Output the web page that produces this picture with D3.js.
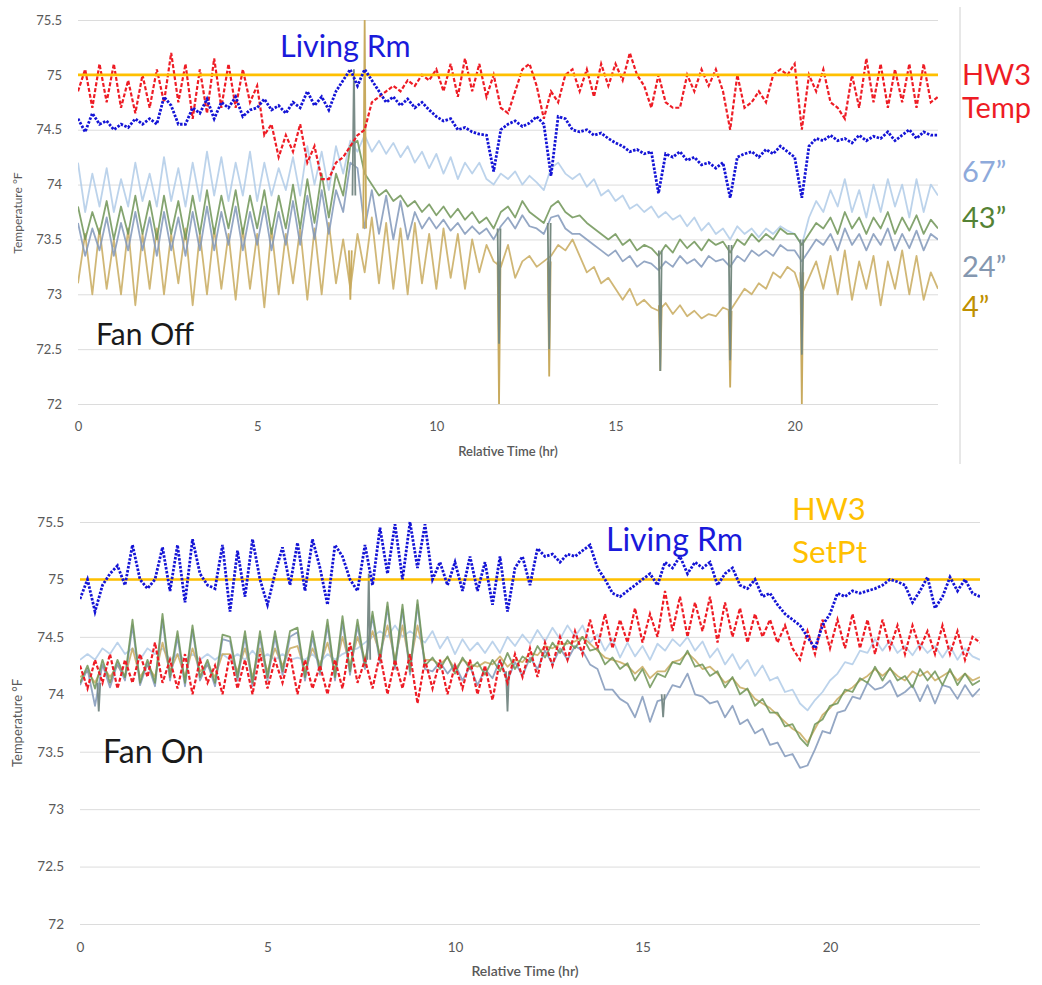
<!DOCTYPE html>
<html>
<head>
<meta charset="utf-8">
<script src="https://cdn.jsdelivr.net/npm/d3@7"></script>
<style>
  body { margin: 0; background: #fff; }
  svg { display: block; }
  text { font-family: Lato, "Open Sans", sans-serif; }
</style>
</head>
<body>
<svg id="chart" width="1042" height="985"></svg>
<script>
// samples every 0.2 hr, 0..24
const step = 0.2;
const xTicks = [0, 5, 10, 15, 20];
const yTicks = [72, 72.5, 73, 73.5, 74, 74.5, 75, 75.5];
const setPoint = 75;

// ---- Fan Off ----
const offHW3 = [
  74.85, 75.05, 74.7, 75.1, 74.75,  75.1, 74.7, 74.95, 74.65, 75.0,
  74.7, 75.05, 74.75, 75.2, 74.75,  75.1, 74.6, 75.05, 74.65, 75.15,
  74.7, 75.1, 74.7, 75.05, 74.75,  74.9, 74.45, 74.55, 74.25, 74.45,
  74.3, 74.55, 74.2, 74.35, 74.05,  74.05, 74.2, 74.25, 74.35, 74.45,
  74.5, 74.75, 74.8, 74.85, 74.9,  74.85, 74.95, 74.9, 75.0, 74.95,
  75.05, 74.85, 75.1, 74.8, 75.15,  74.85, 75.1, 74.8, 75.0, 74.7,
  74.65, 74.85, 75.05, 75.1, 74.9,  74.6, 74.85, 74.75, 75.0, 75.05,
  74.85, 75.05, 74.8, 75.1, 74.9,  75.1, 74.95, 75.2, 75.0, 74.9,
  74.7, 75.0, 74.75, 74.7, 74.7,  75.0, 74.85, 75.05, 74.9, 75.05,
  74.85, 74.5, 75.0, 74.7, 74.75,  74.85, 74.75, 75.0, 75.05, 75.0,
  75.1, 74.5, 75.0, 74.85, 75.05,  74.75, 74.7, 74.6, 75.0, 74.7,
  75.15, 74.75, 75.1, 74.7, 75.05,  74.75, 75.1, 74.7, 75.1, 74.75,
  74.8
];
const offLiving = [
  74.6, 74.48, 74.65, 74.55, 74.58,  74.5, 74.55, 74.52, 74.6, 74.55,
  74.6, 74.55, 74.8, 74.72, 74.55,  74.55, 74.7, 74.65, 74.78, 74.6,
  74.75, 74.7, 74.8, 74.62, 74.68,  74.7, 74.78, 74.68, 74.72, 74.65,
  74.75, 74.7, 74.85, 74.72, 74.8,  74.68, 74.85, 74.95, 75.05, 74.9,
  75.05, 74.95, 74.85, 74.75, 74.8,  74.72, 74.78, 74.7, 74.75, 74.68,
  74.62, 74.58, 74.6, 74.5, 74.52,  74.48, 74.46, 74.45, 74.12, 74.5,
  74.55, 74.58, 74.53, 74.56, 74.62,  74.55, 74.08, 74.62, 74.6, 74.5,
  74.48, 74.5, 74.45, 74.47, 74.42,  74.38, 74.35, 74.3, 74.32, 74.28,
  74.3, 73.92, 74.28, 74.25, 74.3,  74.22, 74.25, 74.18, 74.2, 74.15,
  74.2, 73.88, 74.25, 74.28, 74.3,  74.25, 74.32, 74.28, 74.35, 74.3,
  74.25, 73.88, 74.35, 74.42, 74.4,  74.45, 74.4, 74.42, 74.38, 74.45,
  74.4, 74.44, 74.42, 74.48, 74.4,  74.45, 74.5, 74.42, 74.48, 74.45,
  74.45
];
const off67 = [
  74.2, 73.75, 74.1, 73.8, 74.15,  73.75, 74.05, 73.8, 74.2, 73.85,
  74.1, 73.8, 74.25, 73.85, 74.15,  73.8, 74.2, 73.85, 74.3, 73.9,
  74.25, 73.85, 74.2, 73.9, 74.3,  73.85, 74.2, 73.9, 74.15, 73.95,
  74.25, 73.9, 74.35, 74.0, 74.3,  73.95, 74.35, 74.1, 74.4, 74.3,
  74.45, 74.3, 74.4, 74.28, 74.38,  74.25, 74.35, 74.2, 74.3, 74.15,
  74.28, 74.1, 74.25, 74.05, 74.2,  74.1, 74.2, 74.05, 74.0, 74.1,
  74.05, 74.12, 74.0, 74.08, 74.02,  73.95, 74.15, 74.2, 74.1, 74.05,
  74.1, 73.98, 74.05, 73.9, 73.95,  73.85, 73.9, 73.78, 73.82, 73.75,
  73.8, 73.7, 73.75, 73.68, 73.72,  73.62, 73.7, 73.58, 73.65, 73.55,
  73.6, 73.5, 73.62, 73.55, 73.6,  73.52, 73.6, 73.55, 73.62, 73.58,
  73.55, 73.45, 73.7, 73.85, 73.75,  73.95, 73.8, 74.05, 73.75, 73.95,
  73.7, 74.0, 73.75, 74.05, 73.8,  74.0, 73.7, 74.05, 73.75, 74.0,
  73.9
];
const off43 = [
  73.8, 73.5, 73.75, 73.55, 73.85,  73.5, 73.8, 73.55, 73.9, 73.55,
  73.85, 73.5, 73.9, 73.55, 73.85,  73.5, 73.9, 73.55, 73.95, 73.55,
  73.9, 73.6, 73.95, 73.55, 73.9,  73.6, 73.95, 73.55, 73.9, 73.6,
  74.0, 73.6, 74.05, 73.65, 74.1,  73.7, 74.1, 73.9, 74.35, 74.4,
  74.1, 74.0, 73.9, 73.95, 73.85,  73.9, 73.8, 73.85, 73.75, 73.82,
  73.72, 73.8, 73.7, 73.78, 73.68,  73.75, 73.65, 73.7, 73.6, 73.75,
  73.8, 73.7, 73.85, 73.75, 73.7,  73.65, 73.8, 73.85, 73.75, 73.7,
  73.72, 73.65, 73.6, 73.55, 73.5,  73.55, 73.45, 73.5, 73.4, 73.45,
  73.42, 73.35, 73.45, 73.38, 73.5,  73.42, 73.48, 73.4, 73.5, 73.45,
  73.48, 73.38, 73.5, 73.45, 73.55,  73.48, 73.55, 73.5, 73.6, 73.55,
  73.55, 73.45, 73.55, 73.65, 73.6,  73.7, 73.55, 73.75, 73.6, 73.7,
  73.55, 73.7, 73.6, 73.75, 73.55,  73.7, 73.58, 73.72, 73.55, 73.68,
  73.6
];
const off24 = [
  73.65, 73.35, 73.6, 73.4, 73.7,  73.35, 73.65, 73.4, 73.75, 73.4,
  73.7, 73.35, 73.75, 73.4, 73.7,  73.35, 73.75, 73.4, 73.8, 73.4,
  73.75, 73.45, 73.8, 73.4, 73.75,  73.45, 73.8, 73.4, 73.75, 73.45,
  73.85, 73.45, 73.9, 73.5, 73.95,  73.55, 73.95, 73.75, 74.2, 74.15,
  73.6, 73.95, 73.55, 73.9, 73.5,  73.85, 73.5, 73.75, 73.6, 73.7,
  73.6, 73.68, 73.58, 73.65, 73.55,  73.62, 73.55, 73.6, 73.5, 73.62,
  73.7, 73.6, 73.72, 73.62, 73.6,  73.55, 73.7, 73.72, 73.6, 73.55,
  73.55, 73.5, 73.45, 73.4, 73.35,  73.4, 73.3, 73.35, 73.25, 73.3,
  73.28, 73.22, 73.3, 73.25, 73.35,  73.28, 73.32, 73.25, 73.35, 73.3,
  73.32, 73.25, 73.35, 73.3, 73.4,  73.35, 73.4, 73.35, 73.45, 73.4,
  73.4, 73.3, 73.4, 73.5, 73.45,  73.55, 73.4, 73.6, 73.45, 73.55,
  73.4, 73.55, 73.45, 73.6, 73.4,  73.55, 73.42, 73.58, 73.4, 73.55,
  73.5
];
const off4 = [
  73.1, 73.55, 73.0, 73.6, 73.05,  73.5, 73.0, 73.6, 72.9, 73.55,
  73.05, 73.6, 73.0, 73.55, 73.1,  73.6, 72.9, 73.55, 73.0, 73.6,
  73.05, 73.55, 72.95, 73.6, 73.05,  73.55, 72.88, 73.6, 73.0, 73.55,
  73.1, 73.6, 72.95, 73.6, 73.0,  73.65, 73.1, 73.5, 73.05, 73.55,
  73.2, 73.7, 73.1, 73.65, 73.05,  73.6, 73.0, 73.65, 73.1, 73.55,
  73.05, 73.6, 73.15, 73.55, 73.05,  73.5, 73.2, 73.45, 73.3, 73.25,
  73.45, 73.15, 73.3, 73.35, 73.25,  73.3, 73.35, 73.45, 73.4, 73.5,
  73.35, 73.2, 73.25, 73.1, 73.15,  73.05, 72.95, 73.05, 72.9, 72.95,
  72.88, 72.85, 72.92, 72.82, 72.9,  72.8, 72.85, 72.78, 72.82, 72.8,
  72.88, 72.85, 72.95, 73.05, 73.0,  73.1, 73.05, 73.2, 73.15, 73.25,
  73.2, 73.0, 73.15, 73.3, 73.05,  73.35, 73.0, 73.4, 72.95, 73.3,
  73.05, 73.35, 72.9, 73.3, 73.05,  73.4, 73.0, 73.35, 72.95, 73.2,
  73.05
];
// narrow spikes: [hr, from, to, sensor]
const offSpikes = [
  [7.6, 73.4, 72.95, "4"], [8.0, 73.6, 75.5, "4"], [7.7, 73.9, 75.05, "24"],
  [11.75, 73.3, 72.0, "4"], [13.15, 73.3, 72.25, "4"], [16.25, 72.9, 72.3, "4"],
  [18.2, 72.85, 72.15, "4"], [20.2, 73.2, 72.0, "4"],
  [11.75, 73.6, 72.55, "43"], [13.15, 73.65, 72.5, "43"], [16.25, 73.4, 72.3, "43"],
  [18.2, 73.45, 72.4, "43"], [20.2, 73.5, 72.45, "43"]
];

// ---- Fan On ----
const onHW3 = [
  74.25, 74.05, 74.3, 74.1, 74.35,  74.05, 74.3, 74.1, 74.35, 74.15,
  74.45, 74.1, 74.3, 74.05, 74.35,  74.0, 74.3, 74.1, 74.25, 74.0,
  74.35, 74.05, 74.3, 74.0, 74.35,  74.05, 74.3, 74.1, 74.35, 74.0,
  74.3, 74.05, 74.25, 74.0, 74.3,  74.05, 74.45, 74.1, 74.3, 74.05,
  74.35, 74.0, 74.3, 74.05, 74.35,  73.92, 74.3, 74.05, 74.3, 74.0,
  74.25, 74.05, 74.3, 74.0, 74.25,  73.95, 74.3, 74.1, 74.35, 74.15,
  74.4, 74.15, 74.45, 74.25, 74.5,  74.3, 74.55, 74.35, 74.65, 74.4,
  74.7, 74.4, 74.65, 74.45, 74.75,  74.45, 74.7, 74.5, 74.9, 74.55,
  74.85, 74.5, 74.8, 74.55, 74.85,  74.45, 74.8, 74.5, 74.75, 74.45,
  74.7, 74.5, 74.65, 74.45, 74.6,  74.4, 74.3, 74.55, 74.35, 74.65,
  74.4, 74.65, 74.4, 74.7, 74.4,  74.65, 74.35, 74.65, 74.4, 74.6,
  74.35, 74.6, 74.4, 74.55, 74.35,  74.6, 74.35, 74.55, 74.3, 74.5,
  74.45
];
const onLiving = [
  74.83, 75.0, 74.72, 74.95, 75.05,  75.12, 74.95, 75.3, 75.0, 74.92,
  75.0, 75.28, 74.9, 75.3, 74.8,  75.35, 75.05, 74.95, 74.92, 75.3,
  74.72, 75.25, 74.85, 75.35, 75.0,  74.78, 75.05, 75.28, 74.95, 75.32,
  74.9, 75.35, 75.1, 74.78, 75.3,  75.2, 75.0, 74.9, 75.3, 74.95,
  75.45, 75.05, 75.48, 75.0, 75.5,  75.1, 75.48, 75.0, 75.15, 74.95,
  75.15, 74.9, 75.2, 74.9, 75.15,  74.78, 75.2, 74.72, 75.1, 75.2,
  74.95, 75.27, 75.2, 75.22, 75.15,  75.22, 75.2, 75.25, 75.3, 75.1,
  75.0, 74.88, 74.85, 74.9, 74.95,  75.0, 75.05, 74.95, 75.15, 75.1,
  75.2, 75.05, 75.15, 75.1, 75.15,  74.95, 75.05, 75.1, 74.95, 74.92,
  75.0, 74.85, 74.88, 74.78, 74.7,  74.65, 74.6, 74.5, 74.4, 74.6,
  74.7, 74.88, 74.85, 74.9, 74.88,  74.9, 74.92, 74.95, 75.0, 74.98,
  74.95, 74.8, 74.9, 75.02, 74.75,  74.85, 75.02, 74.9, 75.0, 74.88,
  74.85
];
const on67 = [
  74.3, 74.35, 74.3, 74.4, 74.35,  74.45, 74.35, 74.4, 74.3, 74.4,
  74.35, 74.4, 74.3, 74.35, 74.3,  74.35, 74.3, 74.35, 74.3, 74.35,
  74.3, 74.35, 74.3, 74.38, 74.3,  74.35, 74.3, 74.35, 74.3, 74.32,
  74.3, 74.35, 74.28, 74.35, 74.3,  74.35, 74.38, 74.4, 74.45, 74.5,
  74.55, 74.5, 74.6, 74.5, 74.55,  74.5, 74.45, 74.55, 74.4, 74.5,
  74.35, 74.48, 74.38, 74.45, 74.36,  74.46, 74.36, 74.5, 74.42, 74.52,
  74.44, 74.56, 74.46, 74.58, 74.48,  74.6, 74.5, 74.6, 74.45, 74.52,
  74.38, 74.48, 74.32, 74.45, 74.33,  74.42, 74.3, 74.44, 74.38, 74.48,
  74.42, 74.5, 74.38, 74.46, 74.32,  74.4, 74.26, 74.35, 74.22, 74.3,
  74.16, 74.25, 74.12, 74.15, 74.02,  74.04, 73.92, 73.86, 73.95, 74.02,
  74.12, 74.18, 74.28, 74.26, 74.38,  74.36, 74.48, 74.38, 74.47, 74.36,
  74.42, 74.34, 74.44, 74.36, 74.42,  74.32, 74.42, 74.3, 74.4, 74.33,
  74.3
];
const on43 = [
  74.1, 74.25, 74.05, 74.3, 74.1,  74.3, 74.15, 74.65, 74.1, 74.3,
  74.1, 74.7, 74.15, 74.55, 74.1,  74.6, 74.15, 74.3, 74.1, 74.52,
  74.5, 74.15, 74.55, 74.1, 74.55,  74.15, 74.55, 74.2, 74.55, 74.58,
  74.15, 74.55, 74.2, 74.65, 74.15,  74.68, 74.2, 74.65, 74.25, 74.72,
  74.3, 74.8, 74.25, 74.78, 74.2,  74.82, 74.25, 74.32, 74.22, 74.33,
  74.18, 74.32, 74.22, 74.28, 74.17,  74.3, 74.2, 74.36, 74.22, 74.33,
  74.28, 74.42, 74.32, 74.45, 74.36,  74.47, 74.4, 74.5, 74.38, 74.4,
  74.26, 74.32, 74.22, 74.27, 74.12,  74.22, 74.06, 74.18, 74.15, 74.28,
  74.26, 74.38, 74.24, 74.26, 74.16,  74.2, 74.06, 74.15, 74.0, 74.05,
  73.9, 73.96, 73.84, 73.84, 73.72,  73.74, 73.62, 73.55, 73.74, 73.78,
  73.9, 73.92, 74.04, 74.02, 74.14,  74.1, 74.24, 74.12, 74.23, 74.12,
  74.16, 74.06, 74.22, 74.12, 74.2,  74.08, 74.22, 74.08, 74.18, 74.08,
  74.12
];
const on24 = [
  74.08, 74.22, 73.9, 74.26, 74.06,  74.27, 74.12, 74.6, 74.08, 74.27,
  74.07, 74.65, 74.12, 74.5, 74.07,  74.56, 74.12, 74.27, 74.07, 74.48,
  74.46, 74.12, 74.5, 74.07, 74.5,  74.12, 74.5, 74.17, 74.5, 74.54,
  74.12, 74.5, 74.17, 74.6, 74.12,  74.63, 74.17, 74.6, 74.22, 74.68,
  74.27, 74.76, 74.22, 74.74, 74.17,  74.78, 74.22, 74.2, 74.28, 74.18,
  74.26, 74.12, 74.24, 74.08, 74.22,  74.14, 74.3, 74.12, 74.28, 74.16,
  74.32, 74.22, 74.38, 74.26, 74.4,  74.3, 74.42, 74.38, 74.26, 74.22,
  74.04, 74.04, 73.96, 73.92, 73.8,  73.98, 73.76, 73.94, 73.96, 74.08,
  74.06, 74.18, 74.0, 73.98, 73.92,  73.94, 73.8, 73.9, 73.74, 73.78,
  73.66, 73.7, 73.56, 73.58, 73.46,  73.48, 73.36, 73.38, 73.52, 73.68,
  73.66, 73.84, 73.86, 73.98, 73.96,  74.1, 74.04, 74.06, 74.12, 73.98,
  74.02, 74.08, 73.94, 74.08, 73.92,  74.08, 74.06, 73.96, 74.08, 73.98,
  74.05
];
const on4 = [
  74.15, 74.2, 74.1, 74.25, 74.15,  74.25, 74.15, 74.4, 74.15, 74.25,
  74.15, 74.45, 74.2, 74.35, 74.15,  74.4, 74.2, 74.25, 74.15, 74.35,
  74.35, 74.2, 74.4, 74.15, 74.4,  74.2, 74.4, 74.25, 74.4, 74.42,
  74.2, 74.4, 74.25, 74.45, 74.2,  74.5, 74.25, 74.5, 74.3, 74.55,
  74.35, 74.6, 74.3, 74.6, 74.25,  74.6, 74.3, 74.3, 74.26, 74.32,
  74.22, 74.3, 74.26, 74.24, 74.28,  74.26, 74.33, 74.24, 74.3, 74.28,
  74.36, 74.34, 74.42, 74.4, 74.44,  74.44, 74.46, 74.5, 74.44, 74.38,
  74.32, 74.3, 74.28, 74.25, 74.18,  74.24, 74.14, 74.2, 74.2, 74.28,
  74.3, 74.36, 74.3, 74.22, 74.24,  74.18, 74.1, 74.14, 74.06, 74.04,
  73.96, 73.92, 73.88, 73.82, 73.76,  73.7, 73.66, 73.58, 73.7, 73.82,
  73.88, 73.96, 74.02, 74.06, 74.12,  74.16, 74.22, 74.16, 74.22, 74.16,
  74.12, 74.2, 74.16, 74.2, 74.12,  74.16, 74.2, 74.12, 74.18, 74.12,
  74.15
];
const onSpikes = [
  [0.5, 74.1, 73.85, "24"], [7.7, 74.3, 75.05, "24"],
  [11.4, 74.2, 73.85, "24"], [15.55, 74.0, 73.8, "24"]
];

const sensorColor = { "67": "#b0cbe8", "43": "#6e9456", "24": "#8198ba", "4": "#c8aa5e" };
const spikeColor = { "4": "#c8aa5e", "43": "#768a80", "24": "#7a8c88" };

const svg = d3.select("#chart");

const panels = [
  { x: [78, 938], y: [404, 20], hw3: offHW3, living: offLiving,
    sensors: [["67", off67], ["4", off4], ["24", off24], ["43", off43]], spikes: offSpikes,
    tick: 13, title: 13, yTitle: 213, titleX: 508 },
  { x: [80, 980], y: [924, 522], hw3: onHW3, living: onLiving,
    sensors: [["67", on67], ["4", on4], ["24", on24], ["43", on43]], spikes: onSpikes,
    tick: 13.5, title: 14, yTitle: 723, titleX: 525 }
];

panels.forEach(p => {
  const x = d3.scaleLinear().domain([0, 24]).range(p.x);
  const y = d3.scaleLinear().domain([72, 75.5]).range(p.y);
  const g = svg.append("g");

  const yAxis = g.append("g")
      .attr("transform", `translate(${p.x[0]},0)`)
      .call(d3.axisLeft(y).tickValues(yTicks).tickFormat(d3.format(""))
        .tickSize(-(p.x[1] - p.x[0])).tickPadding(16));
  yAxis.select(".domain").remove();
  yAxis.selectAll("line").attr("stroke", "#dcdcdc");
  yAxis.selectAll("text").attr("fill", "#595959").style("font-size", p.tick + "px");

  const xAxis = g.append("g")
      .attr("transform", `translate(0,${p.y[0]})`)
      .call(d3.axisBottom(x).tickValues(xTicks).tickSize(0).tickPadding(18));
  xAxis.select(".domain").remove();
  xAxis.selectAll("text").attr("fill", "#595959").style("font-size", p.tick + "px");

  g.append("text")
      .attr("x", p.titleX).attr("y", p.y[0] + 52)
      .attr("text-anchor", "middle").attr("fill", "#595959")
      .style("font-size", p.title + "px").style("font-weight", "600")
      .text("Relative Time (hr)");
  g.append("text")
      .attr("transform", `translate(22,${p.yTitle}) rotate(-90)`)
      .attr("text-anchor", "middle").attr("fill", "#595959")
      .style("font-size", (p.title - 1) + "px")
      .text("Temperature °F");

  const clipId = "clip" + p.y[0];
  svg.append("clipPath").attr("id", clipId).append("rect")
      .attr("x", p.x[0]).attr("y", p.y[1] - 1)
      .attr("width", p.x[1] - p.x[0]).attr("height", p.y[0] - p.y[1] + 1);
  const plot = g.append("g").attr("clip-path", `url(#${clipId})`);

  const line = d3.line().x((d, i) => x(i * step)).y(d => y(d));
  const pts = d3.line().x(d => x(d[0])).y(d => y(d[1]));

  p.sensors.forEach(([k, vals]) => {
    plot.append("path").datum(vals)
        .attr("fill", "none").attr("stroke", sensorColor[k])
        .attr("stroke-width", 1.8).attr("stroke-opacity", 0.85)
        .attr("stroke-linejoin", "round")
        .attr("d", line);
  });

  p.spikes.forEach(([t, a, b, k]) => {
    plot.append("path").datum([[t - 0.04, a], [t, b], [t + 0.04, a]])
        .attr("fill", "none").attr("stroke", spikeColor[k])
        .attr("stroke-width", 1.8).attr("d", pts);
  });

  plot.append("path").datum(p.hw3)
      .attr("fill", "none").attr("stroke", "#ee1c25")
      .attr("stroke-width", 2.2).attr("stroke-dasharray", "4,2")
      .attr("d", line);

  plot.append("path").datum([[0, setPoint], [24, setPoint]])
      .attr("fill", "none").attr("stroke", "#ffc000")
      .attr("stroke-width", 2.6).attr("d", pts);

  plot.append("path").datum(p.living)
      .attr("fill", "none").attr("stroke", "#1414d6")
      .attr("stroke-width", 2.8).attr("stroke-dasharray", "2.5,1.5")
      .attr("d", line);
});

// divider beside the top panel
svg.append("line")
    .attr("x1", 960).attr("x2", 960).attr("y1", 7).attr("y2", 464)
    .attr("stroke", "#d0d0d0");

const notes = [
  // [text, x, y, colour, size]
  ["Living Rm", 280, 57, "#1a1adb", 30.5],
  ["Fan Off", 96, 345, "#1a1a1a", 30],
  ["HW3", 962, 85, "#ee1c25", 29],
  ["Temp", 962, 118, "#ee1c25", 29],
  ["67\u201d", 962, 182, "#8eaadb", 29],
  ["43\u201d", 962, 228, "#548235", 29],
  ["24\u201d", 962, 277, "#8497b0", 29],
  ["4\u201d", 962, 317, "#bf9000", 29],
  ["Living Rm", 606, 551, "#1a1adb", 32],
  ["HW3", 792, 520, "#ffc000", 31],
  ["SetPt", 792, 563, "#ffc000", 31.5],
  ["Fan On", 103, 763, "#1a1a1a", 32]
];
svg.append("g").selectAll("text").data(notes).join("text")
    .attr("x", d => d[1]).attr("y", d => d[2])
    .attr("fill", d => d[3]).style("font-size", d => d[4] + "px")
    .text(d => d[0]);
</script>
</body>
</html>
